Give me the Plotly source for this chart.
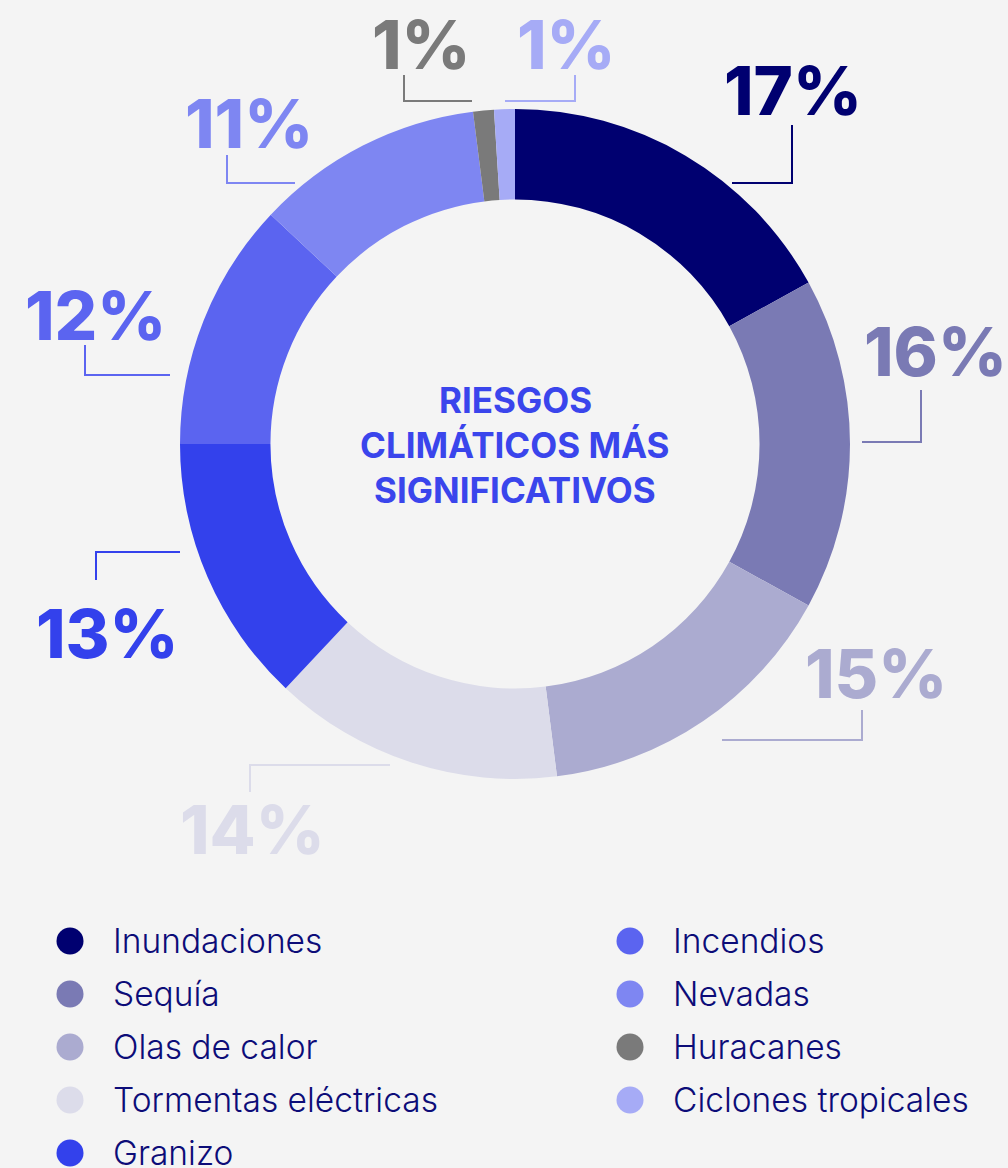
import plotly.graph_objects as go

# datos
categorias = ["Inundaciones", "Sequía", "Olas de calor", "Tormentas eléctricas", "Granizo",
              "Incendios", "Nevadas", "Huracanes", "Ciclones tropicales"]
porcentajes = [17, 16, 15, 14, 13, 12, 11, 1, 1]
colores = ["#000070", "#7a7ab4", "#ababd0", "#dcdcea", "#3341ec",
           "#5b64f0", "#7e86f2", "#7a7a7a", "#a6abf6"]
titulo_centro = ["RIESGOS", "CLIMÁTICOS MÁS", "SIGNIFICATIVOS"]

W, H = 1008, 1168
BG = "#f4f4f4"


def px(x):
    return x / W


def py(y):
    return 1 - y / H


# disposición de las etiquetas (pixeles): recorrido de la línea guía y centro del texto
guias = [
    ([(732, 183), (792, 183), (792, 125)], (793, 90)),
    ([(862, 442), (921, 442), (921, 390)], (935, 351)),
    ([(722, 740), (862, 740), (862, 710)], (876, 673)),
    ([(390, 765), (250, 765), (250, 792)], (252, 829)),
    ([(180, 552), (96, 552), (96, 580)], (107, 633)),
    ([(170, 375), (85, 375), (85, 345)], (95, 315)),
    ([(295, 183), (227, 183), (227, 155)], (249, 123)),
    ([(472, 101), (404, 101), (404, 75)], (421, 44)),
    ([(505, 101), (575, 101), (575, 75)], (566, 44)),
]

fig = go.Figure()

fig.add_trace(go.Pie(
    labels=categorias,
    values=porcentajes,
    sort=False,
    direction="clockwise",
    rotation=0,
    hole=0.73,
    marker=dict(colors=colores, line=dict(width=0)),
    textinfo="none",
    showlegend=False,
    domain=dict(x=[px(180), px(850)], y=[py(779), py(109)]),
))

# leyenda en dos columnas
leg_x = [70 + (i // 5) * 560 for i in range(len(categorias))]
leg_y = [941 + (i % 5) * 53 for i in range(len(categorias))]
fig.add_trace(go.Scatter(
    x=leg_x, y=leg_y, mode="markers",
    marker=dict(size=27, color=colores, line=dict(width=0)),
    showlegend=False, hoverinfo="skip",
))
for cat, x, y in zip(categorias, leg_x, leg_y):
    fig.add_annotation(
        x=x + 41, y=y, xref="x", yref="y", text=cat, showarrow=False,
        xanchor="left", yanchor="middle",
        font=dict(family="Inter", size=33.5, color="#0c0c78", weight=300),
    )

shapes = []
for (puntos, (tx, ty)), val, col in zip(guias, porcentajes, colores):
    path = "M " + " L ".join(f"{px(a)},{py(b)}" for a, b in puntos)
    shapes.append(dict(type="path", xref="paper", yref="paper", path=path,
                       line=dict(color=col, width=2)))
    fig.add_annotation(
        x=px(tx), y=py(ty), xref="paper", yref="paper", text=f"{val}%",
        showarrow=False, xanchor="center", yanchor="middle",
        font=dict(family="Inter", size=67, color=col, weight=800),
    )

for linea, y in zip(titulo_centro, [400, 445, 490]):
    fig.add_annotation(
        x=px(515), y=py(y), xref="paper", yref="paper", text=linea,
        showarrow=False, xanchor="center", yanchor="middle",
        font=dict(family="Inter", size=35, color="#3a45ec", weight=700),
    )

fig.update_layout(
    width=W, height=H,
    margin=dict(l=0, r=0, t=0, b=0),
    paper_bgcolor=BG, plot_bgcolor=BG,
    shapes=shapes,
    xaxis=dict(range=[0, W], visible=False, domain=[0, 1], fixedrange=True),
    yaxis=dict(range=[H, 0], visible=False, domain=[0, 1], fixedrange=True),
)

fig.write_html(
    "out.html",
    config={"displayModeBar": False},
    post_script="document.body.style.margin='0';document.body.style.background='#f4f4f4';",
)
